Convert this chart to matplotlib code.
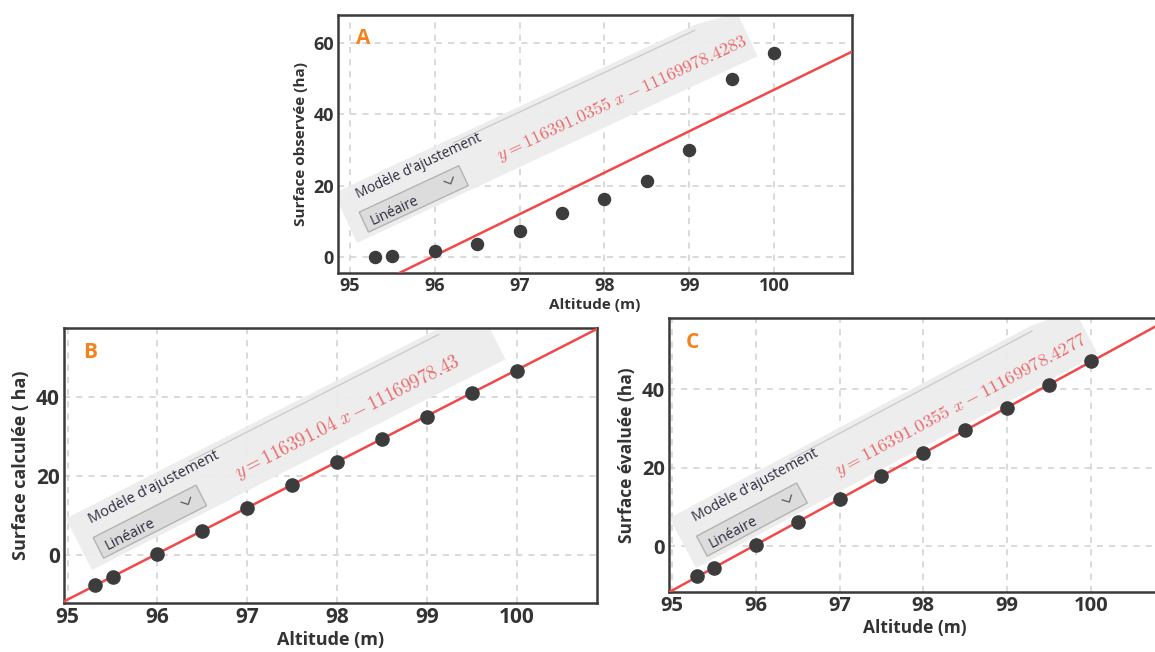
import numpy as np
import matplotlib

matplotlib.use("Agg")
import matplotlib.pyplot as plt
from matplotlib.patches import Polygon
from matplotlib.lines import Line2D

DPI = 100
FIG_W, FIG_H = 1155, 652

# values
altitude = [95.3, 95.5, 96.0, 96.5, 97.0, 97.5, 98.0, 98.5, 99.0, 99.5, 100.0]
surface_observed = [0.1, 0.4, 1.8, 3.7, 7.3, 12.3, 16.3, 21.2, 29.9, 50.0, 57.1]
surface_computed = [-7.6, -5.6, 0.2, 6.1, 11.8, 17.7, 23.5, 29.4, 35.0, 41.0, 46.7]
surface_evaluated = [-7.6, -5.7, 0.3, 6.1, 12.0, 17.8, 23.8, 29.5, 35.3, 41.1, 47.1]

# fitted line as drawn in the three panels
fit_slope = 11.6391
fit_intercept = -1116.998

x_ticks = [95, 96, 97, 98, 99, 100]
equations = [
    r"$y = 116391.0355\ x - 11169978.4283$",
    r"$y = 116391.04\ x - 11169978.43$",
    r"$y = 116391.0355\ x - 11169978.4277$",
]

plt.rcParams["mathtext.fontset"] = "cm"
plt.rcParams["font.family"] = ["Open Sans", "DejaVu Sans"]

TEXT_DARK = "#333333"
RED = "#f2484a"
ORANGE = "#f5821f"


def draw_widget(ax, anchor, angle, scale, equation):
    tr = ax.figure.dpi_scale_trans
    a = np.radians(angle)
    eu = np.array([np.cos(a), np.sin(a)])
    ev = np.array([-np.sin(a), np.cos(a)])
    origin = np.array([anchor[0] / DPI, (FIG_H - anchor[1]) / DPI])

    def loc(u, v):
        p = origin + scale * (u * eu + v * ev) / DPI
        return float(p[0]), float(p[1])

    band = Polygon([loc(0, 0), loc(442, 0), loc(442, 48), loc(398, 55), loc(0, 55)],
                   closed=True, transform=tr, facecolor="#ededed", edgecolor="none",
                   alpha=0.95, zorder=2)
    ax.add_artist(band)
    ax.add_artist(Line2D([loc(130, 50)[0], loc(396, 50)[0]], [loc(130, 50)[1], loc(396, 50)[1]],
                         transform=tr, color="#cdcdcd", lw=1.0, zorder=2.1))
    box = Polygon([loc(15, 5), loc(125, 5), loc(125, 27), loc(15, 27)], closed=True,
                  transform=tr, facecolor="#dcdcdc", edgecolor="#b3b3b3", lw=1.0, zorder=2.2)
    ax.add_artist(box)
    chev = [loc(105, 19), loc(110, 14), loc(115, 19)]
    ax.add_artist(Line2D([p[0] for p in chev], [p[1] for p in chev], transform=tr,
                         color="#666666", lw=1.0, zorder=2.3))
    common = dict(transform=tr, rotation=angle, rotation_mode="anchor", ha="left",
                  va="baseline", clip_on=True, zorder=2.4)
    ax.text(*loc(22, 10), "Linéaire", fontsize=10 * scale, color="#2f2b40", **common)
    ax.text(*loc(20, 40), "Modèle d'ajustement", fontsize=10 * scale, color="#2f2b40", **common)
    ax.text(*loc(164, 14), equation, fontsize=13 * scale, color="#ea6a6c", **common)


def draw_panel(rect, y_values, xlim, ylim, y_ticks, ylabel, letter, sizes, widget):
    tick_size, label_size, marker_size = sizes
    ax = fig.add_axes(rect)
    ax.set_axisbelow(True)
    ax.grid(True, color="#cfcfcf", linestyle=(0, (4, 4)), linewidth=1.1)
    line_x = np.array(xlim)
    ax.plot(line_x, fit_slope * line_x + fit_intercept, color=RED, lw=1.8, zorder=4)
    ax.scatter(altitude, y_values, s=marker_size, color="#3c3c3c", zorder=5)
    ax.set_xlim(xlim)
    ax.set_ylim(ylim)
    ax.set_xticks(x_ticks)
    ax.set_yticks(y_ticks)
    ax.tick_params(length=0, pad=3, labelsize=tick_size, labelcolor=TEXT_DARK)
    for lab in ax.get_xticklabels() + ax.get_yticklabels():
        lab.set_fontweight("bold")
    for spine in ax.spines.values():
        spine.set_color("#3a3a3a")
        spine.set_linewidth(1.8)
    ax.set_xlabel("Altitude (m)", fontsize=label_size, fontweight="bold", color=TEXT_DARK, labelpad=2)
    ax.set_ylabel(ylabel, fontsize=label_size, fontweight="bold", color=TEXT_DARK, labelpad=4)
    ax.text(0.035, 0.91, letter, transform=ax.transAxes, fontsize=15, fontweight="bold",
            color=ORANGE, ha="left", va="center")
    draw_widget(ax, *widget)
    return ax


fig = plt.figure(figsize=(FIG_W / DPI, FIG_H / DPI), dpi=DPI)

draw_panel([338 / FIG_W, (FIG_H - 273) / FIG_H, 514 / FIG_W, 258 / FIG_H],
           surface_observed, (94.86, 100.92), (-4.5, 67.9), [0, 20, 40, 60],
           "Surface observée (ha)", "A", (13, 11, 75),
           ((357, 243), 25, 1.0, equations[0]))

draw_panel([64 / FIG_W, (FIG_H - 603) / FIG_H, 533 / FIG_W, 275 / FIG_H],
           surface_computed, (94.96, 100.89), (-12.15, 57.5), [0, 20, 40],
           "Surface calculée ( ha)", "B", (15, 13, 90),
           ((92, 570), 27, 1.05, equations[1]))

draw_panel([669 / FIG_W, (FIG_H - 592) / FIG_H, 491 / FIG_W, 274 / FIG_H],
           surface_evaluated, (94.96, 100.83), (-11.7, 58.1), [0, 20, 40],
           "Surface évaluée (ha)", "C", (14.5, 12.5, 90),
           ((696, 568), 28, 1.03, equations[2]))

fig.savefig("out.png", dpi=DPI)
plt.close(fig)
